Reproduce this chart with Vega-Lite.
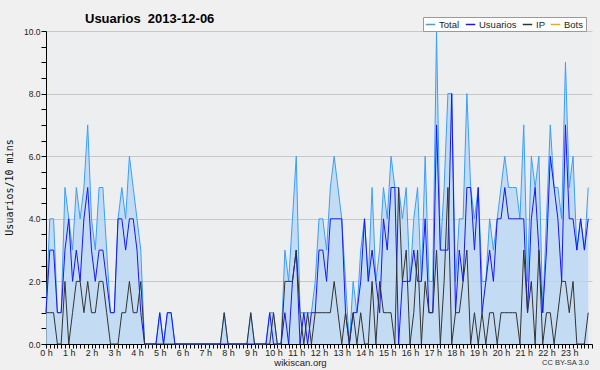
{
  "$schema": "https://vega.github.io/schema/vega-lite/v6.json",
  "width": 546,
  "height": 313,
  "autosize": {"type": "none"},
  "padding": {"left": 46, "top": 31, "right": 8, "bottom": 26},
  "background": "#F0F0F0",
  "title": {"text": "Usuarios\u00a0\u00a02013-12-06", "anchor": "start", "frame": "group", "dx": 39, "dy": 28, "offset": 9, "baseline": "alphabetic", "font": "Liberation Sans", "fontSize": 13, "fontWeight": "bold", "color": "#000000"},
  "data": {"values": [
    {"m":0,"T":1,"U":1,"IP":1},{"m":10,"T":4,"U":3,"IP":1},{"m":20,"T":4,"U":3,"IP":1},{"m":30,"T":1,"U":1,"IP":0},{"m":40,"T":1,"U":1,"IP":0},{"m":50,"T":5,"U":3,"IP":2},
    {"m":60,"T":4,"U":4,"IP":0},{"m":70,"T":3,"U":2,"IP":1},{"m":80,"T":5,"U":3,"IP":2},{"m":90,"T":4,"U":2,"IP":2},{"m":100,"T":5,"U":4,"IP":1},{"m":110,"T":7,"U":5,"IP":2},
    {"m":120,"T":4,"U":3,"IP":1},{"m":130,"T":3,"U":2,"IP":1},{"m":140,"T":5,"U":3,"IP":2},{"m":150,"T":5,"U":3,"IP":2},{"m":160,"T":3,"U":2,"IP":1},{"m":170,"T":1,"U":1,"IP":0},
    {"m":180,"T":1,"U":1,"IP":0},{"m":190,"T":4,"U":4,"IP":0},{"m":200,"T":5,"U":4,"IP":1},{"m":210,"T":4,"U":3,"IP":1},{"m":220,"T":6,"U":4,"IP":2},{"m":230,"T":5,"U":4,"IP":1},
    {"m":240,"T":4,"U":3,"IP":1},{"m":250,"T":3,"U":1,"IP":2},{"m":260,"T":0,"U":0,"IP":0},{"m":270,"T":0,"U":0,"IP":0},{"m":280,"T":0,"U":0,"IP":0},{"m":290,"T":0,"U":0,"IP":0},
    {"m":300,"T":1,"U":1,"IP":0},{"m":310,"T":0,"U":0,"IP":0},{"m":320,"T":1,"U":1,"IP":0},{"m":330,"T":1,"U":1,"IP":0},{"m":340,"T":0,"U":0,"IP":0},{"m":350,"T":0,"U":0,"IP":0},
    {"m":360,"T":0,"U":0,"IP":0},{"m":370,"T":0,"U":0,"IP":0},{"m":380,"T":0,"U":0,"IP":0},{"m":390,"T":0,"U":0,"IP":0},{"m":400,"T":0,"U":0,"IP":0},{"m":410,"T":0,"U":0,"IP":0},
    {"m":420,"T":0,"U":0,"IP":0},{"m":430,"T":0,"U":0,"IP":0},{"m":440,"T":0,"U":0,"IP":0},{"m":450,"T":0,"U":0,"IP":0},{"m":460,"T":0,"U":0,"IP":0},{"m":470,"T":1,"U":0,"IP":1},
    {"m":480,"T":0,"U":0,"IP":0},{"m":490,"T":0,"U":0,"IP":0},{"m":500,"T":0,"U":0,"IP":0},{"m":510,"T":0,"U":0,"IP":0},{"m":520,"T":0,"U":0,"IP":0},{"m":530,"T":0,"U":0,"IP":0},
    {"m":540,"T":1,"U":0,"IP":1},{"m":550,"T":0,"U":0,"IP":0},{"m":560,"T":0,"U":0,"IP":0},{"m":570,"T":0,"U":0,"IP":0},{"m":580,"T":0,"U":0,"IP":0},{"m":590,"T":1,"U":1,"IP":0},
    {"m":600,"T":1,"U":0,"IP":1},{"m":610,"T":0,"U":0,"IP":0},{"m":620,"T":0,"U":0,"IP":0},{"m":630,"T":3,"U":1,"IP":2},{"m":640,"T":2,"U":0,"IP":2},{"m":650,"T":4,"U":2,"IP":2},
    {"m":660,"T":6,"U":3,"IP":3},{"m":670,"T":1,"U":0,"IP":1},{"m":680,"T":1,"U":1,"IP":0},{"m":690,"T":1,"U":0,"IP":1},{"m":700,"T":1,"U":1,"IP":0},{"m":710,"T":2,"U":1,"IP":1},
    {"m":720,"T":4,"U":3,"IP":1},{"m":730,"T":4,"U":3,"IP":1},{"m":740,"T":3,"U":2,"IP":1},{"m":750,"T":5,"U":4,"IP":1},{"m":760,"T":6,"U":4,"IP":2},{"m":770,"T":5,"U":4,"IP":1},
    {"m":780,"T":4,"U":4,"IP":0},{"m":790,"T":2,"U":1,"IP":1},{"m":800,"T":0,"U":0,"IP":0},{"m":810,"T":2,"U":1,"IP":1},{"m":820,"T":1,"U":1,"IP":0},{"m":830,"T":3,"U":2,"IP":1},
    {"m":840,"T":4,"U":4,"IP":0},{"m":850,"T":2,"U":2,"IP":0},{"m":860,"T":5,"U":3,"IP":2},{"m":870,"T":2,"U":2,"IP":0},{"m":880,"T":3,"U":1,"IP":2},{"m":890,"T":5,"U":4,"IP":1},
    {"m":900,"T":4,"U":3,"IP":1},{"m":910,"T":6,"U":5,"IP":1},{"m":920,"T":5,"U":5,"IP":0},{"m":930,"T":5,"U":0,"IP":5},{"m":940,"T":4,"U":2,"IP":2},{"m":950,"T":5,"U":2,"IP":3},
    {"m":960,"T":2,"U":2,"IP":0},{"m":970,"T":4,"U":3,"IP":1},{"m":980,"T":5,"U":2,"IP":3},{"m":990,"T":2,"U":2,"IP":0},{"m":1000,"T":6,"U":4,"IP":2},{"m":1010,"T":2,"U":1,"IP":1},
    {"m":1020,"T":2,"U":1,"IP":1},{"m":1030,"T":10,"U":7,"IP":3},{"m":1040,"T":3,"U":3,"IP":0},{"m":1050,"T":5,"U":3,"IP":2},{"m":1060,"T":8,"U":3,"IP":5},{"m":1070,"T":8,"U":8,"IP":0},
    {"m":1080,"T":2,"U":1,"IP":1},{"m":1090,"T":4,"U":3,"IP":1},{"m":1100,"T":4,"U":2,"IP":2},{"m":1110,"T":8,"U":5,"IP":3},{"m":1120,"T":5,"U":5,"IP":0},{"m":1130,"T":4,"U":3,"IP":1},
    {"m":1140,"T":5,"U":5,"IP":0},{"m":1150,"T":2,"U":1,"IP":1},{"m":1160,"T":2,"U":2,"IP":0},{"m":1170,"T":4,"U":3,"IP":1},{"m":1180,"T":3,"U":2,"IP":1},{"m":1190,"T":4,"U":4,"IP":0},
    {"m":1200,"T":5,"U":4,"IP":1},{"m":1210,"T":6,"U":5,"IP":1},{"m":1220,"T":5,"U":4,"IP":1},{"m":1230,"T":5,"U":4,"IP":1},{"m":1240,"T":5,"U":4,"IP":1},{"m":1250,"T":4,"U":4,"IP":0},
    {"m":1260,"T":7,"U":4,"IP":3},{"m":1270,"T":2,"U":1,"IP":1},{"m":1280,"T":6,"U":4,"IP":2},{"m":1290,"T":5,"U":5,"IP":0},{"m":1300,"T":6,"U":3,"IP":3},{"m":1310,"T":1,"U":1,"IP":0},
    {"m":1320,"T":4,"U":3,"IP":1},{"m":1330,"T":7,"U":6,"IP":1},{"m":1340,"T":5,"U":5,"IP":0},{"m":1350,"T":5,"U":4,"IP":1},{"m":1360,"T":4,"U":2,"IP":2},{"m":1370,"T":9,"U":7,"IP":2},
    {"m":1380,"T":5,"U":4,"IP":1},{"m":1390,"T":6,"U":4,"IP":2},{"m":1400,"T":3,"U":3,"IP":0},{"m":1410,"T":4,"U":4,"IP":0},{"m":1420,"T":3,"U":3,"IP":0},{"m":1430,"T":5,"U":4,"IP":1}
  ]},
  "encoding": {
    "x": {
      "field": "m", "type": "quantitative",
      "scale": {"domain": [0, 1440], "nice": false, "zero": false},
      "axis": {
        "tickCount": 144, "labelExpr": "datum.value % 60 === 0 && datum.value < 1440 ? (datum.value / 60) + ' h' : ''",
        "labelOverlap": false, "labelFlush": false, "labelBound": false,
        "grid": false, "domainColor": "#000000", "tickColor": "#000000", "tickSize": 4, "labelPadding": 0,
        "labelFont": "Liberation Sans", "labelFontSize": 9, "labelColor": "#222222",
        "title": "wikiscan.org", "titleX": 254, "titleY": 21, "titleAlign": "center", "titleBaseline": "alphabetic", "titleFont": "Liberation Sans", "titleFontSize": 9.5, "titleFontWeight": "normal", "titleColor": "#222222"
      }
    }
  },
  "layer": [
    {
      "mark": {"type": "area", "color": "#B8D7F3", "opacity": 0.78, "interpolate": "linear"},
      "encoding": {
        "y": {
          "field": "T", "type": "quantitative",
          "scale": {"domain": [0, 10], "nice": false},
          "axis": {
            "values": [0,0.5,1,1.5,2,2.5,3,3.5,4,4.5,5,5.5,6,6.5,7,7.5,8,8.5,9,9.5,10],
            "labelExpr": "datum.value % 2 === 0 ? format(datum.value, '.1f') : ''",
            "grid": true, "gridColor": "#C8C8C8",
            "gridOpacity": {"condition": {"test": "datum.value % 2 === 0", "value": 1}, "value": 0},
            "domainColor": "#000000", "tickColor": "#000000", "tickSize": 5, "labelPadding": 1,
            "labelFont": "Liberation Sans", "labelFontSize": 8.5, "labelColor": "#222222", "labelOverlap": false,
            "title": "Usuarios/10 mins", "titleX": -37, "titleY": 156, "titleAngle": -90, "titleAlign": "center", "titleBaseline": "middle",
            "titleFont": "DejaVu Sans Mono", "titleFontSize": 10, "titleFontWeight": "normal", "titleColor": "#111111"
          }
        }
      }
    },
    {
      "mark": {"type": "line", "strokeWidth": 1},
      "encoding": {
        "y": {"field": "T", "type": "quantitative", "axis": null},
        "color": {
          "datum": "Total",
          "scale": {"domain": ["Total", "Usuarios", "IP", "Bots"], "range": ["#3A9EFF", "#1414FF", "#333333", "#FFA500"]},
          "legend": {
            "orient": "none", "legendX": 377, "legendY": -14, "direction": "horizontal", "title": null,
            "fillColor": "#FFFFFF", "strokeColor": "#9A9A9A", "padding": 2,
            "symbolType": "stroke", "symbolSize": 90, "symbolStrokeWidth": 1.5,
            "labelFont": "Liberation Sans", "labelFontSize": 9.5, "labelColor": "#222222", "labelOffset": 3, "columnPadding": 2
          }
        }
      }
    },
    {
      "mark": {"type": "line", "strokeWidth": 1},
      "encoding": {
        "y": {"field": "U", "type": "quantitative", "axis": null},
        "color": {"datum": "Usuarios"}
      }
    },
    {
      "mark": {"type": "line", "strokeWidth": 1},
      "encoding": {
        "y": {
          "field": "IP", "type": "quantitative",
          "axis": {
            "orient": "right", "ticks": false, "labels": false, "domain": false, "grid": false,
            "title": "CC BY-SA 3.0", "titleX": -27, "titleY": 333, "titleAngle": 0, "titleAlign": "center", "titleBaseline": "alphabetic",
            "titleFont": "Liberation Sans", "titleFontSize": 7.5, "titleFontWeight": "normal", "titleColor": "#333333"
          }
        },
        "color": {"datum": "IP"}
      }
    }
  ],
  "resolve": {"axis": {"y": "independent"}},
  "config": {"view": {"fill": "#EDEEF0", "stroke": null}}
}
